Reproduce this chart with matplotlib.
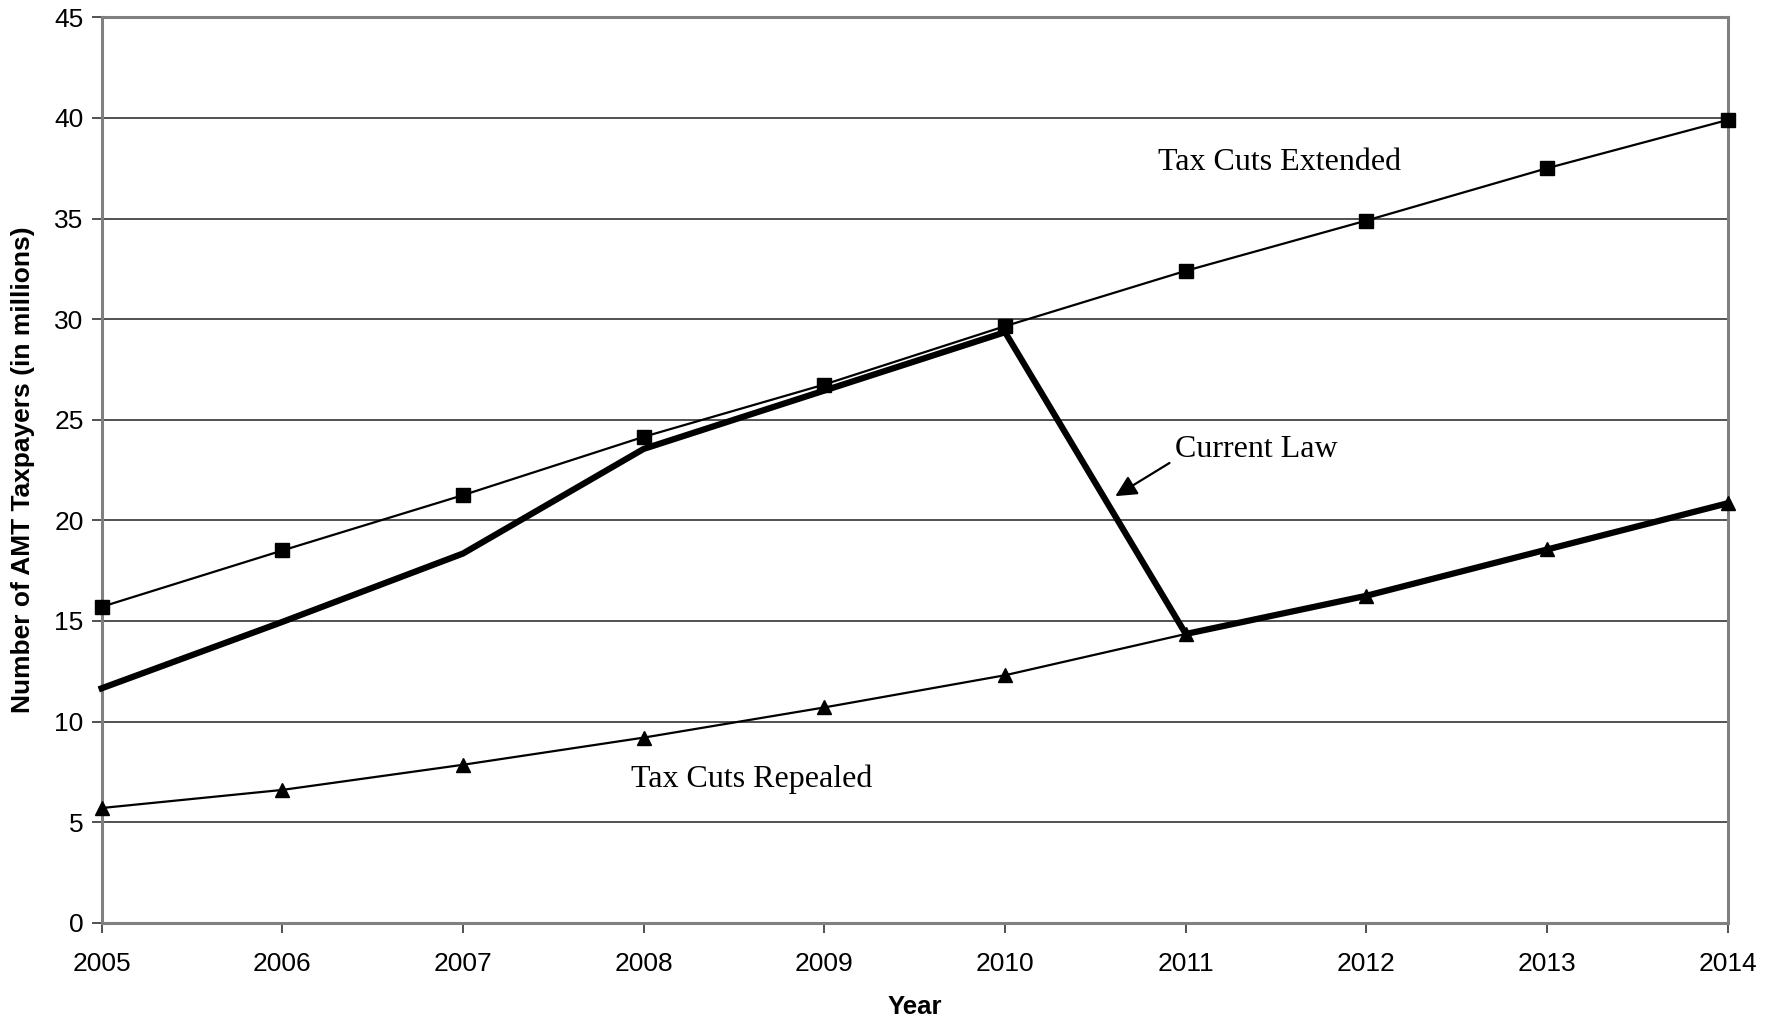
import numpy as np
import matplotlib.pyplot as plt

years = [2005, 2006, 2007, 2008, 2009, 2010, 2011, 2012, 2013, 2014]
extended = [15.7, 18.5, 21.25, 24.15, 26.75, 29.65, 32.4, 34.9, 37.5, 39.9]
repealed = [5.7, 6.6, 7.85, 9.2, 10.7, 12.3, 14.35, 16.25, 18.55, 20.85]
current_law = [11.65, 14.95, 18.35, 23.55, 26.45, 29.35, 14.35, 16.25, 18.55, 20.85]

plt.rcParams['font.family'] = ['Liberation Sans', 'DejaVu Sans']

fig = plt.figure(figsize=(17.8, 10.25), dpi=100)
ax = fig.add_axes([0.0571, 0.0998, 0.9136, 0.8833])

ax.plot(years, extended, color='black', lw=1.6, marker='s', markersize=9.5, zorder=3, clip_on=False)
ax.plot(years, repealed, color='black', lw=1.6, marker='^', markersize=9.5, zorder=3, clip_on=False)
ax.plot(years, current_law, color='black', lw=4.5, solid_joinstyle='miter', zorder=4, clip_on=False)

ax.set_xlim(2005, 2014)
ax.set_ylim(0, 45)
ax.set_xticks(years)
ax.set_yticks(np.arange(0, 46, 5))
ax.yaxis.grid(True, color='#333333', lw=1.2)
ax.set_axisbelow(True)

for s in ax.spines.values():
    s.set_color('#808080')
    s.set_linewidth(2.2)

ax.tick_params(axis='both', labelsize=19, length=7, width=1.2, color='#333333', direction='out')
ax.tick_params(axis='x', pad=14)
ax.tick_params(axis='y', pad=6)

ax.set_xlabel('Year', fontsize=18.5, fontweight='bold', labelpad=14)
ax.set_ylabel('Number of AMT Taxpayers (in millions)', fontsize=19, fontweight='bold', labelpad=14)

serif = ['Liberation Serif', 'DejaVu Serif']
ax.text(2011.52, 37.8, 'Tax Cuts Extended', fontsize=23, family=serif, ha='center', va='center')
ax.text(2008.60, 7.15, 'Tax Cuts Repealed', fontsize=23, family=serif, ha='center', va='center')
ax.text(2011.39, 23.52, 'Current Law', fontsize=23, family=serif, ha='center', va='center')
ax.annotate('', xy=(2010.61, 21.2), xytext=(2010.91, 22.85),
            arrowprops=dict(arrowstyle='-|>', mutation_scale=32, lw=1.6, color='black',
                            shrinkA=0, shrinkB=0))

fig.savefig('out.png', dpi=100)
